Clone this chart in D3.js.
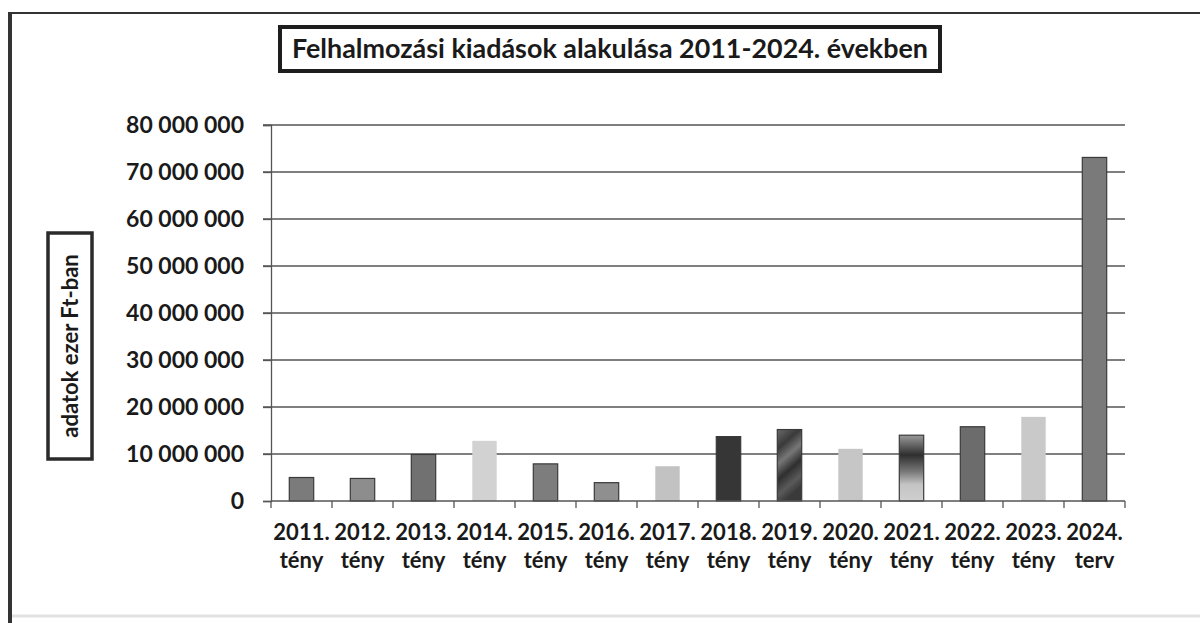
<!DOCTYPE html>
<html>
<head>
<meta charset="utf-8">
<script src="https://cdn.jsdelivr.net/npm/d3@7"></script>
<style>
  body { margin: 0; background: #fff; }
  text { font-family: Lato, "Open Sans", sans-serif; font-weight: bold; fill: #1a1a1a; }
</style>
</head>
<body>
<div id="chart"></div>
<script>
// data (ezer Ft)
const years = ['2011.', '2012.', '2013.', '2014.', '2015.', '2016.', '2017.', '2018.', '2019.', '2020.', '2021.', '2022.', '2023.', '2024.'];
const kinds = ['tény', 'tény', 'tény', 'tény', 'tény', 'tény', 'tény', 'tény', 'tény', 'tény', 'tény', 'tény', 'tény', 'terv'];
const values = [5000000, 4800000, 9900000, 12800000, 7900000, 3900000, 7400000, 13700000, 15200000, 11100000, 14000000, 15800000, 17900000, 73100000];
const fills = ['#7b7b7b', '#8d8d8d', '#717171', '#d2d2d2', '#7d7d7d', '#8f8f8f', '#c2c2c2', '#363636', 'url(#mottle)', '#c6c6c6', 'url(#fade)', '#6c6c6c', '#c9c9c9', '#7a7a7a'];
const yTicks = [0, 10000000, 20000000, 30000000, 40000000, 50000000, 60000000, 70000000, 80000000];

const width = 1200, height = 623;
const svg = d3.select('#chart').append('svg')
  .attr('width', width)
  .attr('height', height);

const defs = svg.append('defs');
const fade = defs.append('linearGradient').attr('id', 'fade').attr('x1', 0).attr('y1', 0).attr('x2', 0).attr('y2', 1);
[['0%', '#9a9a9a'], ['30%', '#2e2e2e'], ['55%', '#777'], ['75%', '#c4c4c4'], ['100%', '#cfcfcf']]
  .forEach(s => fade.append('stop').attr('offset', s[0]).attr('stop-color', s[1]));
const mottle = defs.append('linearGradient').attr('id', 'mottle').attr('x1', 0).attr('y1', 0).attr('x2', 0.3).attr('y2', 1);
[['0%', '#6a6a6a'], ['25%', '#3a3a3a'], ['45%', '#777'], ['65%', '#2f2f2f'], ['85%', '#5a5a5a'], ['100%', '#3a3a3a']]
  .forEach(s => mottle.append('stop').attr('offset', s[0]).attr('stop-color', s[1]));

// outer frame (scanned page)
svg.append('line').attr('x1', 10).attr('y1', 13).attr('x2', 1200).attr('y2', 13)
  .attr('stroke', '#333').attr('stroke-width', 2);
svg.append('line').attr('x1', 10).attr('y1', 12).attr('x2', 10).attr('y2', 623)
  .attr('stroke', '#333').attr('stroke-width', 4);
svg.append('line').attr('x1', 12).attr('y1', 616).attr('x2', 1200).attr('y2', 616)
  .attr('stroke', '#e2e2e2').attr('stroke-width', 3);

const x = d3.scaleBand()
  .domain(years)
  .range([271, 1125])
  .paddingInner(0.6)
  .paddingOuter(0.3);

const y = d3.scaleLinear()
  .domain([0, 80000000])
  .range([501, 125]);

const fmt = d3.formatLocale({ thousands: ' ', grouping: [3], decimal: ',', currency: ['', ''] }).format(',');

// gridlines
svg.append('g')
  .selectAll('line')
  .data(yTicks.slice(1))
  .enter().append('line')
  .attr('x1', 263).attr('x2', 1125)
  .attr('y1', d => y(d)).attr('y2', d => y(d))
  .attr('stroke', '#555').attr('stroke-width', 1.3);

// y axis
const yAxis = svg.append('g')
  .attr('transform', 'translate(271,0)')
  .call(d3.axisLeft(y).tickValues(yTicks).tickFormat(fmt).tickSize(8).tickPadding(19));
yAxis.select('.domain').attr('stroke', '#555').attr('stroke-width', 1.3);
yAxis.selectAll('.tick line').attr('stroke', '#555').attr('stroke-width', 1.3);
yAxis.selectAll('.tick text')
  .attr('font-size', 23)
  .attr('font-family', 'Lato, sans-serif')
  .attr('font-weight', 'bold')
  .attr('fill', '#1a1a1a');

// bars
svg.append('g')
  .selectAll('rect')
  .data(values)
  .enter().append('rect')
  .attr('x', (d, i) => x(years[i]))
  .attr('y', d => y(d))
  .attr('width', x.bandwidth())
  .attr('height', d => y(0) - y(d))
  .attr('fill', (d, i) => fills[i])
  .attr('stroke', (d, i) => ['#d2d2d2', '#c2c2c2', '#c6c6c6', '#c9c9c9'].includes(fills[i]) ? 'none' : '#3a3a3a')
  .attr('stroke-width', 1.2);

// x axis with ticks at category boundaries
svg.append('line')
  .attr('x1', 271).attr('x2', 1125)
  .attr('y1', y(0)).attr('y2', y(0))
  .attr('stroke', '#555').attr('stroke-width', 1.3);
const bounds = years.map(d => x(d) - x.step() * x.paddingInner() / 2).concat([1125]);
svg.append('g')
  .selectAll('line')
  .data(bounds)
  .enter().append('line')
  .attr('x1', d => d).attr('x2', d => d)
  .attr('y1', y(0)).attr('y2', y(0) + 7)
  .attr('stroke', '#555').attr('stroke-width', 1.3);

// category labels (two lines)
const lab = svg.append('g')
  .selectAll('text')
  .data(years)
  .enter().append('text')
  .attr('text-anchor', 'middle')
  .attr('font-size', 22)
  .attr('x', d => x(d) + x.bandwidth() / 2)
  .attr('y', 540);
lab.append('tspan').text(d => d);
lab.append('tspan')
  .attr('x', d => x(d) + x.bandwidth() / 2)
  .attr('dy', 28)
  .text((d, i) => kinds[i]);

// y axis title box
svg.append('rect')
  .attr('x', 48).attr('y', 233).attr('width', 44).attr('height', 226)
  .attr('fill', 'none').attr('stroke', '#2a2a2a').attr('stroke-width', 3.5);
svg.append('text')
  .attr('transform', 'translate(78,346) rotate(-90)')
  .attr('text-anchor', 'middle')
  .attr('font-size', 22)
  .text('adatok ezer Ft-ban');

// title box
svg.append('rect')
  .attr('x', 280).attr('y', 27).attr('width', 660).attr('height', 44)
  .attr('fill', 'none').attr('stroke', '#1e1e1e').attr('stroke-width', 4);
svg.append('text')
  .attr('x', 610).attr('y', 58)
  .attr('text-anchor', 'middle')
  .attr('font-size', 27)
  .attr('textLength', 636)
  .attr('lengthAdjust', 'spacingAndGlyphs')
  .text('Felhalmozási kiadások alakulása 2011-2024. években');
</script>
</body>
</html>
